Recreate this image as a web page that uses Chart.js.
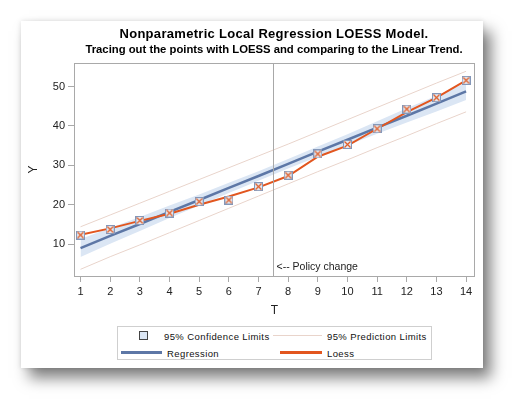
<!DOCTYPE html>
<html>
<head>
<meta charset="utf-8">
<script src="https://cdn.jsdelivr.net/npm/chart.js@4.4.1/dist/chart.umd.min.js"></script>
<style>
    html, body { margin: 0; padding: 0; background: #fff; }
    body { width: 525px; height: 410px; position: relative; overflow: hidden; font-family: Arial, "Liberation Sans", sans-serif; }
    #card {
        position: absolute; left: 21px; top: 21px; width: 462px; height: 347px; background: #fff;
        box-shadow: 0 0 5px rgba(0,0,0,0.12), 8px 10px 14px rgba(0,0,0,0.5);
    }
    #chart { position: absolute; left: 0; top: 0; }
    .ttl { position: absolute; left: 253px; transform: translate(-50%, -50%); white-space: nowrap; font-weight: bold; color: #000; }
    #title { top: 12px; font-size: 13px; letter-spacing: 0.3px; }
    #subtitle { top: 28px; font-size: 11.3px; }
    #legend { position: absolute; left: 96px; top: 305px; width: 313px; height: 32px; border: 1px solid #cfcfcf; }
    .lg { position: absolute; font-size: 9.5px; letter-spacing: 0.4px; color: #111; transform: translateY(-50%); white-space: nowrap; }
    .sw { position: absolute; }
</style>
</head>
<body>
<div id="card">
    <canvas id="chart" width="462" height="305"></canvas>
    <div class="ttl" id="title">Nonparametric Local Regression LOESS Model.</div>
    <div class="ttl" id="subtitle">Tracing out the points with LOESS and comparing to the Linear Trend.</div>
    <div id="legend"></div>
</div>
<script>
const tVals = [1, 2, 3, 4, 5, 6, 7, 8, 9, 10, 11, 12, 13, 14];
const yObs = [12.3, 13.7, 16.0, 17.9, 20.8, 21.2, 24.6, 27.5, 32.9, 35.3, 39.3, 44.3, 47.2, 51.6];
const regFit = [9.0, 12.1, 15.1, 18.2, 21.2, 24.3, 27.3, 30.4, 33.5, 36.5, 39.6, 42.6, 45.7, 48.8];
const loessFit = [12.4, 14.0, 15.9, 17.7, 20.0, 22.1, 24.4, 27.3, 32.2, 35.0, 39.3, 43.5, 47.2, 51.6];
const confUpper = [11.3, 14.1, 16.9, 19.8, 22.6, 25.6, 28.5, 31.6, 34.8, 37.9, 41.2, 44.5, 47.7, 51.0];
const confLower = [6.7, 10.1, 13.3, 16.6, 19.8, 23.0, 26.1, 29.2, 32.2, 35.1, 38.0, 40.9, 43.7, 46.6];
const predUpper = [14.4, 17.4, 20.4, 23.4, 26.4, 29.4, 32.4, 35.4, 38.5, 41.6, 44.7, 47.8, 50.9, 53.9];
const predLower = [3.6, 6.8, 9.8, 12.9, 16.0, 19.1, 22.2, 25.3, 28.4, 31.4, 34.5, 37.5, 40.6, 43.6];
const xTicks = [1, 2, 3, 4, 5, 6, 7, 8, 9, 10, 11, 12, 13, 14];
const yTicks = [10, 20, 30, 40, 50];
const policyT = 7.5;
const policyLabel = "<-- Policy change";

const blue = '#5d77a6';
const orange = '#e2561f';
const bandFill = '#dbe6f4';
const predColor = '#e9d4cb';
const frameColor = '#a9a9a9';
const textColor = '#222';

function pts(ys) {
    return tVals.map((t, i) => ({ x: t, y: ys[i] }));
}

function makeMarker() {
    const c = document.createElement('canvas');
    c.width = 9; c.height = 9;
    const g = c.getContext('2d');
    g.fillStyle = '#e3e9f2';
    g.fillRect(0.5, 0.5, 8, 8);
    g.strokeStyle = '#8597b8';
    g.lineWidth = 1;
    g.strokeRect(0.5, 0.5, 8, 8);
    g.strokeStyle = '#e0602c';
    g.lineWidth = 1.3;
    g.beginPath();
    g.moveTo(1.5, 1.5); g.lineTo(7.5, 7.5);
    g.moveTo(7.5, 1.5); g.lineTo(1.5, 7.5);
    g.stroke();
    return c;
}

const framePlugin = {
    id: 'frame',
    afterDatasetsDraw(chart) {
        const { ctx, chartArea, scales } = chart;
        const x = Math.round(scales.x.getPixelForValue(policyT)) + 0.5;
        ctx.save();
        ctx.strokeStyle = '#a8a8a8';
        ctx.lineWidth = 1;
        ctx.beginPath();
        ctx.moveTo(x, chartArea.top);
        ctx.lineTo(x, chartArea.bottom);
        ctx.stroke();
        ctx.fillStyle = textColor;
        ctx.font = '10.5px Arial, "Liberation Sans", sans-serif';
        ctx.textBaseline = 'middle';
        ctx.fillText(policyLabel, x + 3, chartArea.bottom - 9);
        ctx.strokeStyle = frameColor;
        ctx.strokeRect(Math.round(chartArea.left) + 0.5, Math.round(chartArea.top) + 0.5,
            Math.round(chartArea.right - chartArea.left) - 1, Math.round(chartArea.bottom - chartArea.top));
        ctx.restore();
    }
};

const tickFont = { family: 'Arial, "Liberation Sans", sans-serif', size: 11 };

new Chart(document.getElementById('chart'), {
    type: 'line',
    data: {
        datasets: [
            { label: 'CL upper', data: pts(confUpper), borderWidth: 0, pointRadius: 0, fill: '+1', backgroundColor: bandFill, order: 5 },
            { label: 'CL lower', data: pts(confLower), borderWidth: 0, pointRadius: 0, fill: false, order: 5 },
            { label: 'PL upper', data: pts(predUpper), borderColor: predColor, borderWidth: 1, pointRadius: 0, fill: false, order: 4 },
            { label: 'PL lower', data: pts(predLower), borderColor: predColor, borderWidth: 1, pointRadius: 0, fill: false, order: 4 },
            { label: 'Regression', data: pts(regFit), borderColor: blue, borderWidth: 2.5, pointRadius: 0, fill: false, order: 3 },
            { label: 'Loess', data: pts(loessFit), borderColor: orange, borderWidth: 2, pointRadius: 0, fill: false, order: 2 },
            { label: 'Y', data: pts(yObs), showLine: false, pointStyle: makeMarker(), pointRadius: 4.5, order: 1 }
        ]
    },
    options: {
        responsive: false,
        animation: false,
        layout: { padding: { top: 42, right: 8, left: 0, bottom: 0 } },
        plugins: { legend: { display: false }, tooltip: { enabled: false } },
        scales: {
            x: {
                type: 'linear', min: 0.78, max: 14.3,
                afterBuildTicks: s => { s.ticks = xTicks.map(v => ({ value: v })); },
                afterFit: s => { s.height = 50; },
                grid: { drawOnChartArea: false, drawTicks: true, tickLength: 6, color: frameColor },
                border: { display: false },
                ticks: { padding: 3, color: textColor, font: tickFont, maxRotation: 0 },
                title: { display: true, text: 'T', color: textColor, font: { family: tickFont.family, size: 12 }, padding: { top: 0, bottom: 8 } }
            },
            y: {
                type: 'linear', min: 1.9, max: 56,
                afterBuildTicks: s => { s.ticks = yTicks.map(v => ({ value: v })); },
                afterFit: s => { s.width = 53; },
                grid: { drawOnChartArea: false, drawTicks: true, tickLength: 6, color: frameColor },
                border: { display: false },
                ticks: { padding: 3, color: textColor, font: tickFont },
                title: { display: true, text: 'Y', color: textColor, font: { family: tickFont.family, size: 12 }, padding: { top: 5, bottom: 0 } }
            }
        }
    },
    plugins: [framePlugin]
});

// legend, two rows by two columns
const legendItems = [
    { kind: 'box', x: 21, text: '95% Confidence Limits', tx: 46, row: 0 },
    { kind: 'line', x: 155, w: 49, color: predColor, h: 1, text: '95% Prediction Limits', tx: 209, row: 0 },
    { kind: 'line', x: 3, w: 41, color: blue, h: 2.5, text: 'Regression', tx: 49, row: 1 },
    { kind: 'line', x: 162, w: 42, color: orange, h: 2.5, text: 'Loess', tx: 209, row: 1 }
];
const legendEl = document.getElementById('legend');
legendItems.forEach(it => {
    const cy = it.row === 0 ? 8.5 : 25.5;
    const sw = document.createElement('div');
    sw.className = 'sw';
    if (it.kind === 'box') {
        sw.style.cssText = `left:${it.x}px;top:${cy - 4.5}px;width:7px;height:7px;background:${bandFill};border:1px solid #444;`;
    } else {
        sw.style.cssText = `left:${it.x}px;top:${cy - it.h / 2}px;width:${it.w}px;height:${it.h}px;background:${it.color};`;
    }
    legendEl.appendChild(sw);
    const tx = document.createElement('div');
    tx.className = 'lg';
    tx.style.left = it.tx + 'px';
    tx.style.top = cy + 'px';
    tx.textContent = it.text;
    legendEl.appendChild(tx);
});
</script>
</body>
</html>
